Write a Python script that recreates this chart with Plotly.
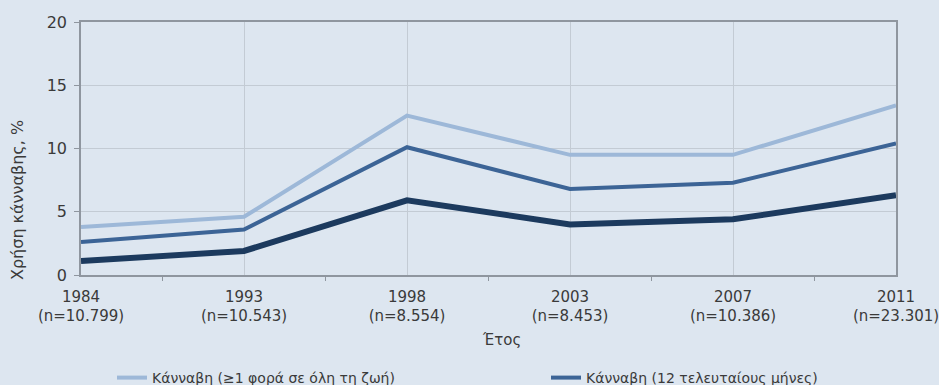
import plotly.graph_objects as go

years = ["1984", "1993", "1998", "2003", "2007", "2011"]
sample_sizes = ["n=10.799", "n=10.543", "n=8.554", "n=8.453", "n=10.386", "n=23.301"]
lifetime = [3.8, 4.6, 12.6, 9.5, 9.5, 13.4]
last_12_months = [2.6, 3.6, 10.1, 6.8, 7.3, 10.4]
last_30_days = [1.1, 1.9, 5.9, 4.0, 4.4, 6.3]

names = ["Κάνναβη (≥1 φορά σε όλη τη ζωή)", "Κάνναβη (12 τελευταίους μήνες)", "Κάνναβη (30 τελευταίες ημέρες)"]
colors = ["#9db8d8", "#3c6496", "#1c3a5e"]
widths = [4, 4, 6]
series = [lifetime, last_12_months, last_30_days]
legend_ids = ["legend", "legend2", "legend3"]

x_idx = list(range(len(years)))
ticktext = [f"{y}<br>({n})" for y, n in zip(years, sample_sizes)]

BG = "#dde6f0"
FONT = "DejaVu Sans"
TXT = "#3a3a3a"
FS = 15

fig = go.Figure()
for nm, vals, c, w, lg in zip(names, series, colors, widths, legend_ids):
    fig.add_trace(go.Scatter(x=x_idx, y=vals, mode="lines", name=nm,
                             line=dict(color=c, width=w), legend=lg))

leg_common = dict(orientation="h", xref="container", yref="container",
                  yanchor="top", xanchor="left",
                  font=dict(family=FONT, size=14, color=TXT),
                  bgcolor="rgba(0,0,0,0)")
fig.update_layout(
    width=939, height=385,
    margin=dict(l=81, r=43, t=22, b=110, autoexpand=False),
    paper_bgcolor=BG, plot_bgcolor=BG,
    font=dict(family=FONT, size=FS, color=TXT),
    showlegend=True,
    legend=dict(x=112 / 939, y=(385 - 362) / 385, **leg_common),
    legend2=dict(x=546 / 939, y=(385 - 362) / 385, **leg_common),
    legend3=dict(x=112 / 939, y=-0.2, **leg_common),
)
fig.update_xaxes(
    range=[0, 5], tickvals=x_idx, ticktext=ticktext, ticks="",
    showgrid=True, gridcolor="#c3cbd4", gridwidth=1,
    showline=True, linecolor="#8f969f", linewidth=1.5, mirror=True,
    minor=dict(tickvals=[0.5, 1.5, 2.5, 3.5, 4.5], ticks="outside", ticklen=4,
               tickcolor="#8f969f", showgrid=False),
    zeroline=False, tickfont=dict(size=FS), ticklabelstandoff=7,
    ticklabeloverflow="allow",
)
fig.update_yaxes(
    range=[0, 20], dtick=5, ticks="outside", ticklen=5, tickcolor="#8f969f",
    showgrid=True, gridcolor="#c3cbd4", gridwidth=1,
    showline=True, linecolor="#8f969f", linewidth=1.5, mirror=True,
    zeroline=False, tickfont=dict(size=16), ticklabelstandoff=4,
)
fig.add_annotation(text="Χρήση κάνναβης, %", xref="paper", yref="paper",
                   x=-(81-18)/815, y=(275-200)/253, textangle=-90,
                   showarrow=False, font=dict(size=16, color=TXT),
                   xanchor="center", yanchor="middle")
fig.add_annotation(text="Έτος", xref="paper", yref="paper",
                   x=(501-81)/815, y=-(340-275)/253,
                   showarrow=False, font=dict(size=FS, color=TXT),
                   xanchor="center", yanchor="middle")

fig.write_html("out.html")
